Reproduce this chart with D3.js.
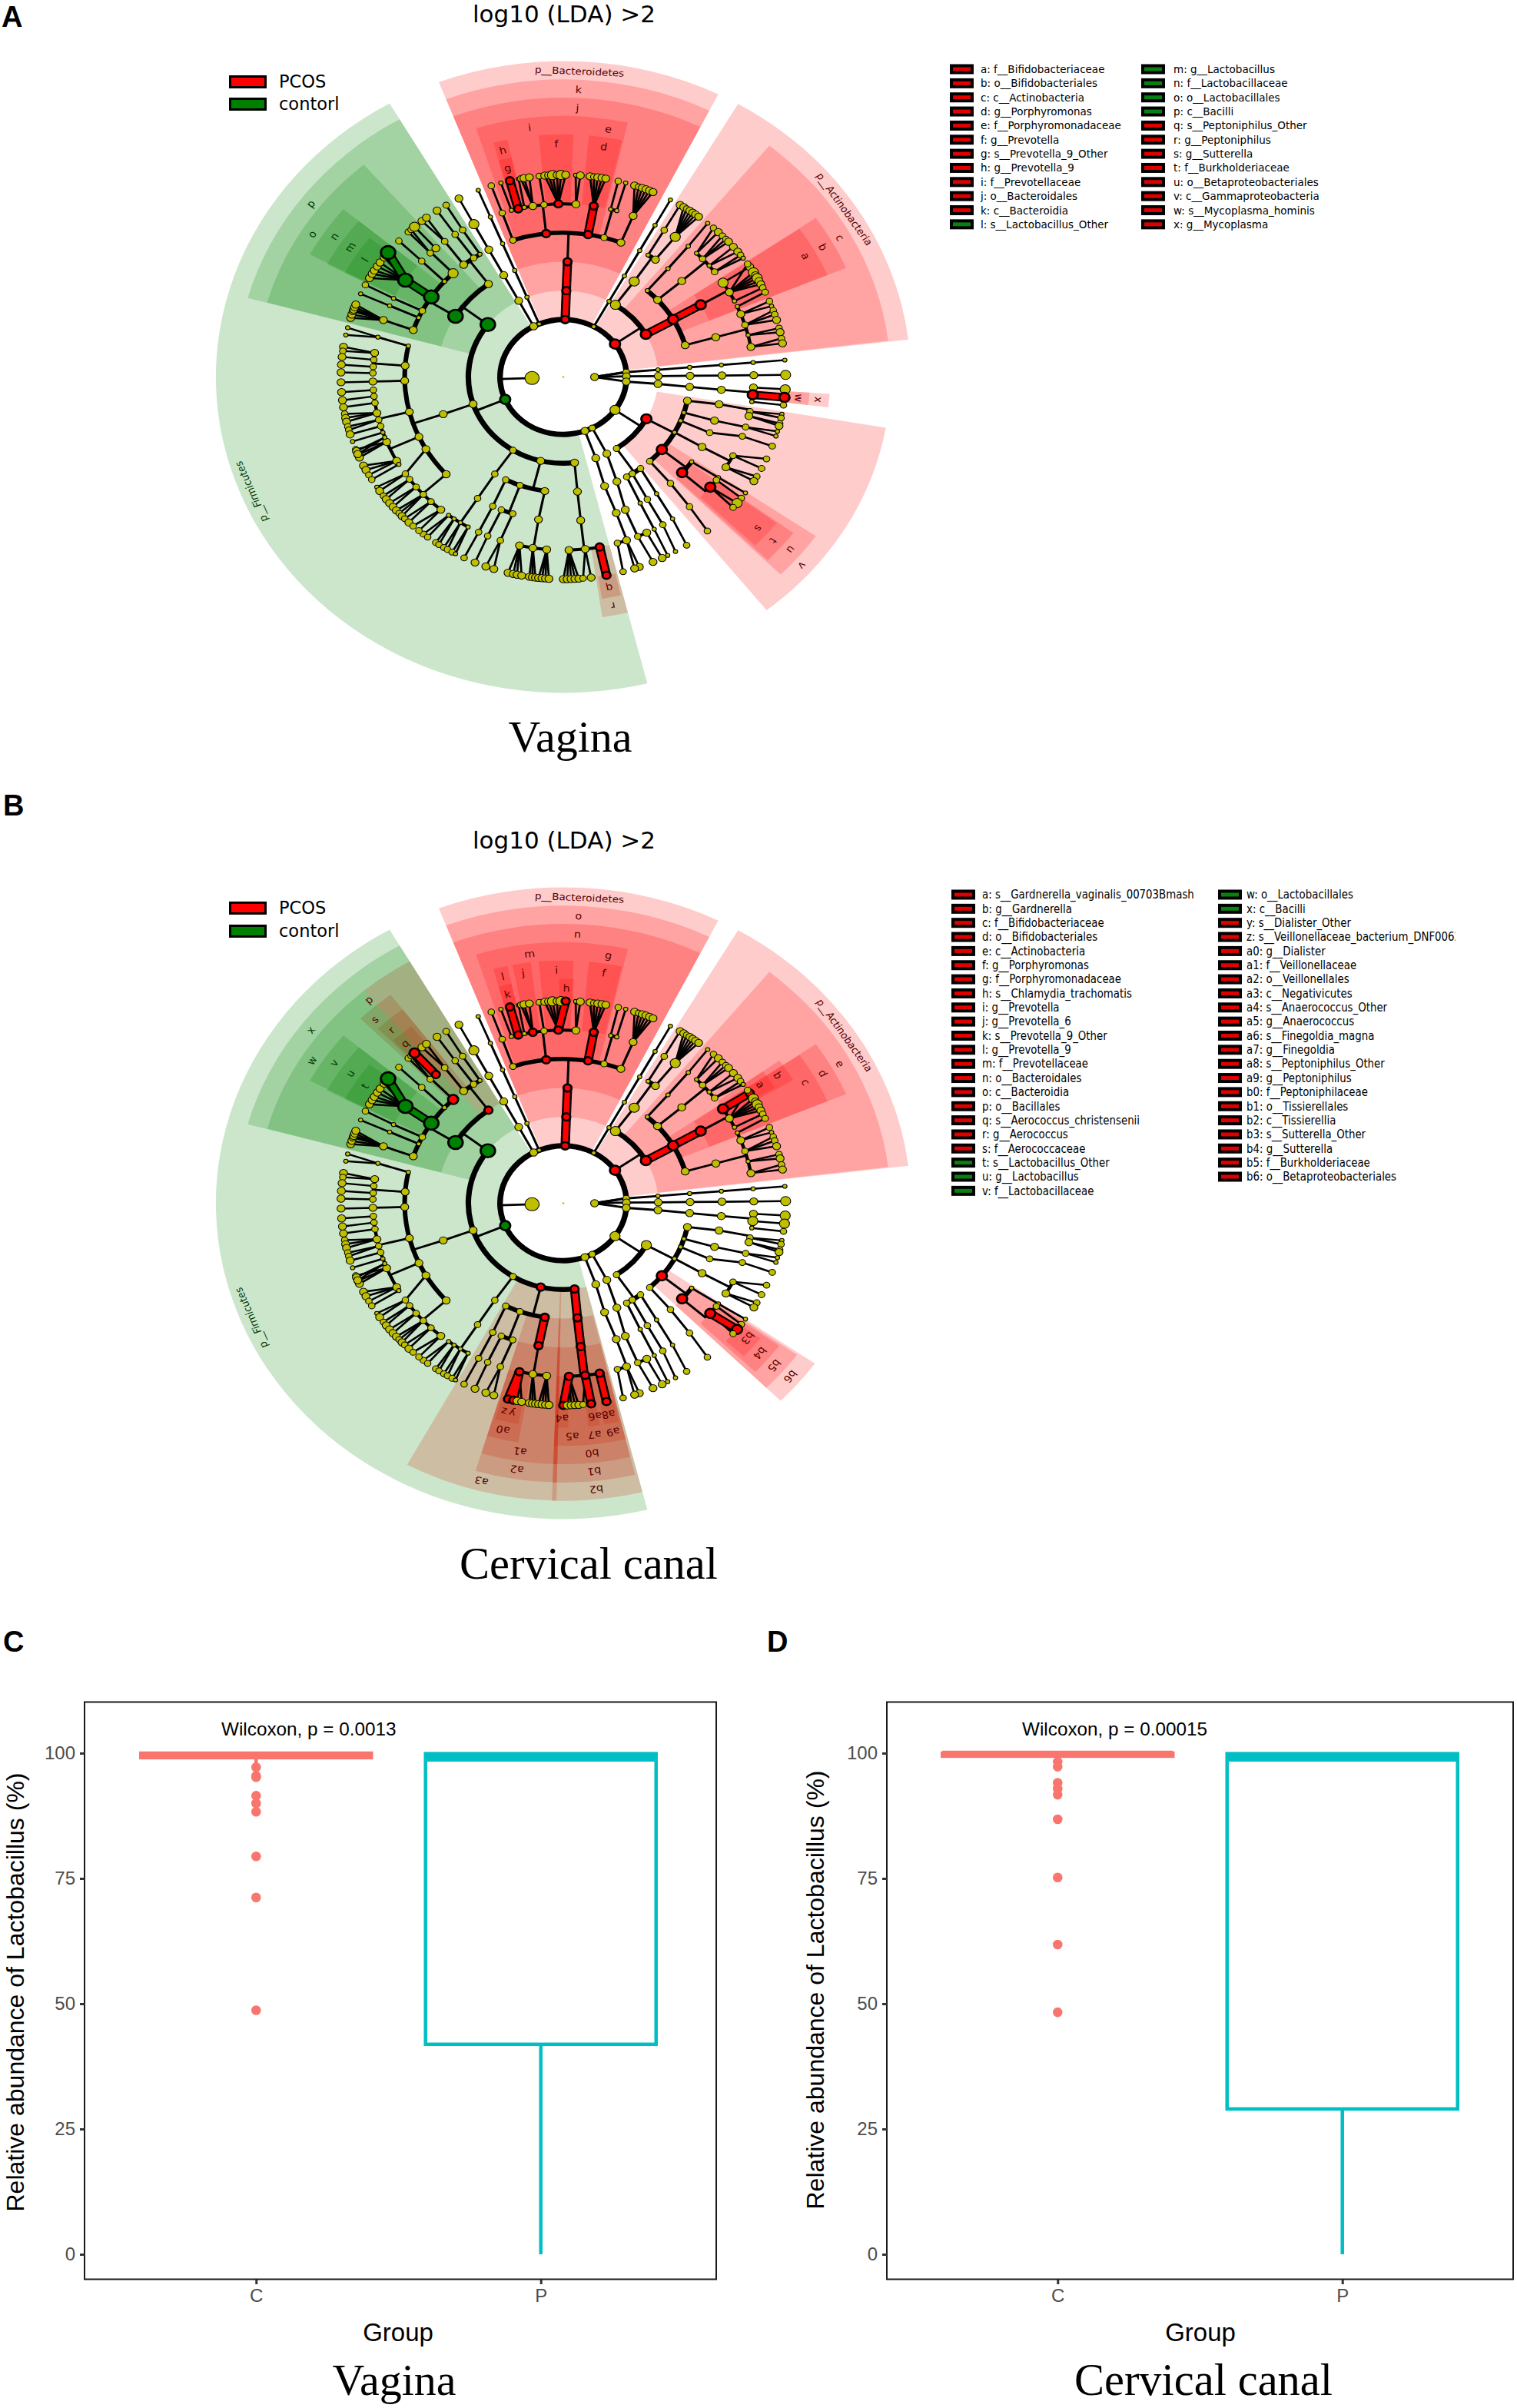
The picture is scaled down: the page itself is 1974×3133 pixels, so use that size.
<!DOCTYPE html>
<html><head><meta charset="utf-8">
<style>html,body{margin:0;padding:0;background:#fff}svg{display:block}</style>
<script src="https://cdn.jsdelivr.net/npm/d3@7/dist/d3.min.js"></script>
</head><body><svg id="c" width="1974" height="3133" viewBox="0 0 1974 3133"></svg>
<script>
// ---- cladogram: node = [angle, size, kids, id]; depth gives the taxonomic level
const chain=(a,sizes)=>{let n=null;for(let i=sizes.length-1;i>=0;i--){n=n?[a,sizes[i],[n]]:[a,sizes[i]];}return n;};

const bacteroidetes=[361.7,3,[[1.8,3,[[1.9,3,[
 [-18.5,2,[[-18.7,2,[[-18.9,2]]]]],
 [-6.2,3,[
  [-15.8,1,[[-16.3,1]]],
  [-13.7,3,[[-13.9,3,null,'bsg']],'bgh'],
  [-11.8,1,[[-11.6,1]]],
  [-9.2,3,[[-11,2],[-10.2,3],[-8.8,3]],'bgj'],
  [-5.8,2,[[-6.2,2]]],
  [-1.5,3,[[-4.8,3],[-3.8,3],[-2.8,4],[-1.6,3],[-0.6,4],[0.6,3,null,'bsh']],'bgf'],
  [3.8,3,[[3.2,1],[4.4,3]]]
 ],'bfi'],
 [9,3,[[9.2,3,[[6.9,3],[7.9,2],[8.9,3],[10,3],[11,3]],'bgd']],'bfe'],
 [14.9,2,[[14.4,1,[[14.3,2]]],[16.3,1,[[16.3,1]]]]],
 [21.3,3,[[21.5,3,[[18.7,3],[19.8,2],[20.8,3],[21.8,3],[22.8,3],[23.8,3]]]]]
],'bo']],'bc']],'bp'];

const chloroflexi=chain(388.8,[1,1,1,1,1,1]);

const actinobacteria=[415,4,[
 [33.3,4,[[34,4,[
   [32.3,1,[[32,2,[[31.7,3]]]]],
   [35.5,3,[[36,4,[[32.8,3],[33.7,2],[34.7,3],[35.6,3],[36.5,3],[37.5,3]]]]]
 ]]]],
 [60.4,4,[
  [41.5,1,[[41.3,1,[[41,1,[[40.5,1]]]]]]],
  [48,3,[[48.3,3,[
    [44.4,1,[[42.5,2],[44.2,3]]],
    [47,2,[[45.7,2],[47,2],[48,3]]],
    [50,1,[[49.9,3],[51.7,3]]],
    [52.6,2,[[52.9,2],[54,1]]]
  ]]]],
  [60,4,[[60,4,[
    [57,4,[[57,3,null,'acs']],'acg'],
    [60.7,3,[[56,2],[58.8,4],[59.8,3],[60.7,4],[61.7,3],[62.7,3]]],
    [64,1,[[63.8,2]]]
  ],'acf']],'aco'],
  [74,3,[[74,3,[
    [66,1,[[65.2,2]]],
    [68.7,3,[[68,2],[69.5,1]]],
    [72.5,2,[[70.8,2],[72,2],[73.6,3]]],
    [76,1,[[76,2],[77.2,3]]],
    [80,3,[[79,2],[80.4,3]]]
  ]]]]
 ],'acc']
],'acp'];

const minorPhyla=[
 chain(85.2,[2,1,1,1,1,1]),
 chain(89.4,[3,3,3,3,3,4]),
 [94.6,3,[[94.6,3,[[94.9,3,[[95.1,3,[
   [93.5,3,[[93.5,4]]],
   [95.9,4,[[95.8,4,null,'ms']],'mg'],
   [98.2,1,[[98,2]]]
 ]]]]]]]]
];

const proteobacteria=[125,4,[
 [119,4,[
  [101.9,3,[[100.9,3,[[101.5,2,[[100.6,1],[101.7,2]]],[103,3,[[103.3,2],[104,3]]]]]]],
  [108,1,[[107.6,3,[[106.8,2,[[105.6,1],[107,1]]]]]]],
  [112.3,1,[[112.7,2,[[110,2,[[110,2]]]]]]],
  [118.7,1,[[119,3,[[117,2,[[113.9,2],[116.9,2]]],[121.4,3,[[119.5,2],[121,3]]]]]]],
  [129,4,[
    [126,1,[[125.5,1,[[125,1]]]]],
    [131.5,4,[[126.5,2,[[126.8,2]]],[129.5,4,[[128.6,4,null,'psl'],[130.2,2]],'ps']],'pt']
  ],'pu'],
  [137,2,[[137.5,2,[[138.5,2,[[139.6,2]]]]]]]
 ],'pv'],
 [145.9,2,[
  [142.5,2,[[144,1,[[145,1,[[146.3,2]]]]]]],
  [147,2,[[148,2,[[148.5,2,[[149.7,1]]]]]]],
  [150,2,[[151,1,[[151.5,1,[[152,1]]]]]]]
 ]]
]];

const p152=[512.7,2,[[152.7,3,[[155,3,[[157,3,[[154,3,[[153.6,3]]],[157,2,[[156.2,3]]]]]]]]]]];
const p160=[520,3,[[160,3,[[161,3,[[160.5,3,[[160.6,3,[[160,3],[161.3,3]]],[163.5,2,[[164.4,2]]]]]]]]]]];

const firmicutes=[607,4,[
 [173.2,3,[[173.6,3,[[173.7,3,[
   [178.3,3,[[180,3,null,'ts4'],[179,3],[178,3],[177,3],[176,3]],'tg178'],
   [173.4,3,[[174.9,2],[172.8,3,null,'ts6']],'tg173'],
   [169,3,[[168.8,3,null,'ts8']],'tg169']
 ],'tf']],'to']],'tc'],
 [193.8,3,[
  [188.4,3,[[189,3,[
    [193.3,3,[[194.4,3,null,'fsz'],[193,3,null,'fsy'],[192,3],[190.8,3]],'vg'],
    [189.2,3,[[188.8,3],[188,3],[187.2,3]]],
    [185,3,[[186.4,3],[185.5,3],[184.6,3],[183.7,3]]]
  ],'vf']],'vo'],
  [200,2,[
    [198.6,2,[[199.3,2,[[200.4,3],[198.2,3]]]]],
    [203,2,[[203.4,2,[[203.4,3]]]]]
  ]],
  [207,2,[[206.4,2,[[206.4,2,[[206.5,2]]]]]]]
 ],'vc'],
 [212,2,[[212.7,2,[[212.7,2,[
   [217,1,[[219,2],[217.6,2]]],
   [215,1,[[215,2],[214,2]]],
   [212.7,1,[[212.5,2],[211.4,2]]],
   [210,1,[[210,2],[209,1]]]
 ]]]]]],
 [251.7,3,[[251.2,3,[
  [282.4,1,[[283.3,1,[[284.1,1],[282,1]]]]],
  [274.5,3,[
    [278,3,[[278.6,3],[277.4,2]]],
    [275.7,2,[[275.7,3]]],
    [273.4,2,[[273.5,3]]],
    [271.3,2,[[271.3,3]]]
  ]],
  [268.5,3,[[268.5,3,[[268.5,3]]]]],
  [256,3,[
    [265.7,2,[[265.7,3]]],[263.6,2,[[263.4,3]]],[261.4,2,[[261.4,3]]],
    [258,3,[[259.5,2],[258.3,3],[257.2,3]]],
    [255.7,2,[[255.8,2],[254.8,2]]],
    [253.5,2,[[253.5,3]]],
    [251.3,1,[[251.4,1]]],
    [248,3,[[249,2],[247.4,3],[246.5,3]]]
  ]],
  [245.5,3,[
    [249.6,1,[[248.5,3],[247.6,3]]],
    [241,3,[[244,3],[242.6,3],[241,2]]],
    [239.7,1,[[239.5,2]]]
  ]],
  [240,3,[[236,2,[[237,1],[235.7,3]]]]],
  [227.6,3,[
    [233.8,2,[[234,2],[232.8,3]]],
    [230.6,2,[[231.4,3],[230,3]]],
    [227.3,2,[[228.7,3],[227.6,2],[226.5,3]]],
    [224,2,[[225.5,2],[224,3]]],
    [220,3,[[222.5,2],[220.5,2]]]
  ]]
 ]]]],
 [307.4,5,[
  [301.8,5,[
   [289,3,[[289.2,3,[[287,3],[288,3],[289,3],[289.5,3],[290.2,3],[291,3]]]]],
   [294.3,1,[[294.3,1,[[294.3,1]]]]],
   [297.3,2,[[297,1,[[297.1,2]]]]],
   [303.7,5,[[304,5,[[299.3,3],[300.7,3],[301.8,3],[303.2,3],[304.5,3],[306.3,3],[308,5,null,'fl']],'fm']],'fn'],
   [311.5,1,[[312,2,[[312.3,2]]]]],
   [316,4,[[315.7,2,[[315.8,2],[316.8,2]]],[318,3,[[318,4,null,'fbs']],'fbg']],'fbf']
  ],'fo'],
  [323.8,3,[
   [321.1,3,[[321.5,2,[[320.5,3],[322,3]]]]],
   [325.6,2,[[325.4,2,[[325.4,3]]]]],
   [328.3,1,[[328.1,2,[[328.2,2]]]]]
  ],'fbo']
 ],'fc']
],'fp'];

const chainA=chain(692,[3,3,3,3,4,3]);
const chainB=chain(697.5,[1,1,1,1,1,1]);
const otherDomain=[268,5,[[268,0]]];
const stubClosure=[445,0];
const mainDomain=[90,3,[minorPhyla[0],minorPhyla[1],minorPhyla[2],proteobacteria,p152,p160,firmicutes,chainA,chainB,bacteroidetes,chloroflexi,actinobacteria,stubClosure]];
const cladeTree=[0,-1,[otherDomain,mainDomain]];

// sectors: [label, start angle, end angle, level, colour, label angle]
const sectorsA=[
 ['p__Bacteroidetes',-21,26.5,2,'r'],['k',-21,26.5,3,'r'],['j',-21,26.5,4,'r'],['i',-17.7,5.8,5,'r',-7],['e',5.8,13,5,'r'],
 ['f',-5.3,2.2,6,'r'],['d',5.5,12.7,6,'r'],['h',-15.2,-12.1,6,'r'],['g',-15.2,-12.1,7,'r'],
 ['p__Actinobacteria',30.2,83.2,2,'r'],['c',39,83,3,'r',61],['b',55.3,67,4,'r'],['a',55.4,67,5,'r'],
 ['p__Firmicutes',166,330,2,'g',248],['p',285.4,330,3,'g',307],['o',285.5,319.5,4,'g',302],['n',298,310,5,'g'],['m',297.7,310,6,'g'],['l',297.7,308.3,7,'g'],
 ['v',99.8,141.6,3,'r',131],['u',124.7,135,4,'r'],['t',126.7,134.6,5,'r'],['s',127,134,6,'r'],
 ['r',166,171.6,6,'r'],['q',166.5,171,7,'r'],['x',94,97.2,6,'r'],['w',94,97.2,7,'r']
];
const sectorsB=[
 ['p__Bacteroidetes',-21,26.5,2,'r'],['o',-21,26.5,3,'r'],['n',-21,26.5,4,'r'],['m',-17.7,5.8,5,'r',-7],['g',5.8,13,5,'r'],
 ['i',-5.3,2.2,6,'r'],['f',5.5,12.7,6,'r'],['l',-15.2,-12.1,6,'r'],['k',-15.2,-12.1,7,'r'],['j',-11,-7,6,'r'],['h',-1,2.5,7,'r'],
 ['p__Actinobacteria',30.2,83.2,2,'r'],['e',39,83,3,'r',61],['d',55.3,67,4,'r'],['c',55.4,67,5,'r'],['b',54,59.5,6,'r'],['a',54,59,7,'r'],
 ['p__Firmicutes',166,330,2,'g',248],['x',285.4,330,3,'g',307],['w',285.5,319.5,4,'g',302],['v',298,310,5,'g'],['u',297.7,310,6,'g'],['t',297.7,308.3,7,'g'],
 ['p',319.5,330,4,'r',319],['s',315,323,5,'r',317],['r',316,323,6,'r',318],['q',316.5,322,7,'r',318],
 ['a3',181.2,208.5,3,'r',195],['a2',181.2,196.6,4,'r',189],['a1',181.2,196.6,5,'r',189],['a0',189.7,196.6,6,'r',193.6],
 ['z',193.5,196,7,'r',194.5],['y',190.5,193.5,7,'r',192.5],
 ['b2',166,182,3,'r',174],['b1',166.5,182,4,'r',174],['b0',166.5,182,5,'r',174],
 ['a5',174.6,182,6,'r',178],['a7',171.5,174.6,6,'r',173],['a9',166.5,171.5,6,'r',168.8],
 ['a4',178.8,181.5,7,'r',180.3],['a6',171.5,174.2,7,'r',172.3],['a8',167,170.5,7,'r',169],
 ['b6',125,135,4,'r'],['b5',125.5,135,5,'r'],['b4',126,134,6,'r'],['b3',127,133,7,'r',128.8]
];
const marksA={red:['bp','bc','bo','bfi','bfe','bgh','bgf','bgd','bsg','acp','acc','aco','acf','pv','pu','pt','ps','tg169','ts8','mg','ms'],green:['fp','fc','fo','fn','fm','fl']};
const marksB={red:['bp','bc','bo','bfi','bfe','bgh','bgj','bgf','bgd','bsg','bsh','acp','acc','aco','acf','acg','acs','fbo','fbf','fbg','fbs','vc','vo','vf','vg','fsz','fsy','tc','to','tf','tg178','tg173','tg169','ts4','ts6','ts8','pu','pt','ps','psl'],green:['fp','fc','fo','fn','fm','fl']};

const legendA=[['a: f__Bifidobacteriaceae','b: o__Bifidobacteriales','c: c__Actinobacteria','d: g__Porphyromonas','e: f__Porphyromonadaceae','f: g__Prevotella','g: s__Prevotella_9_Other','h: g__Prevotella_9','i: f__Prevotellaceae','j: o__Bacteroidales','k: c__Bacteroidia','l: s__Lactobacillus_Other'],
 ['m: g__Lactobacillus','n: f__Lactobacillaceae','o: o__Lactobacillales','p: c__Bacilli','q: s__Peptoniphilus_Other','r: g__Peptoniphilus','s: g__Sutterella','t: f__Burkholderiaceae','u: o__Betaproteobacteriales','v: c__Gammaproteobacteria','w: s__Mycoplasma_hominis','x: g__Mycoplasma']];
const legendAgreen=['l:','m:','n:','o:','p:'];
const legendB=[['a: s__Gardnerella_vaginalis_00703Bmash','b: g__Gardnerella','c: f__Bifidobacteriaceae','d: o__Bifidobacteriales','e: c__Actinobacteria','f: g__Porphyromonas','g: f__Porphyromonadaceae','h: s__Chlamydia_trachomatis','i: g__Prevotella','j: g__Prevotella_6','k: s__Prevotella_9_Other','l: g__Prevotella_9','m: f__Prevotellaceae','n: o__Bacteroidales','o: c__Bacteroidia','p: o__Bacillales','q: s__Aerococcus_christensenii','r: g__Aerococcus','s: f__Aerococcaceae','t: s__Lactobacillus_Other','u: g__Lactobacillus','v: f__Lactobacillaceae'],
 ['w: o__Lactobacillales','x: c__Bacilli','y: s__Dialister_Other','z: s__Veillonellaceae_bacterium_DNF00628','a0: g__Dialister','a1: f__Veillonellaceae','a2: o__Veillonellales','a3: c__Negativicutes','a4: s__Anaerococcus_Other','a5: g__Anaerococcus','a6: s__Finegoldia_magna','a7: g__Finegoldia','a8: s__Peptoniphilus_Other','a9: g__Peptoniphilus','b0: f__Peptoniphilaceae','b1: o__Tissierellales','b2: c__Tissierellia','b3: s__Sutterella_Other','b4: g__Sutterella','b5: f__Burkholderiaceae','b6: o__Betaproteobacteriales']];
const legendBgreen=['t:','u:','v:','w:','x:'];

// ---- box plots
const groups=['C','P'];
const yTicks=[0,25,50,75,100];
const boxesVagina=[{g:'C',lo:97.5,q1:99.1,med:99.6,q3:100},{g:'P',lo:0,q1:41.9,med:99,q3:99.9}];
const boxesCervix=[{g:'C',lo:99,q1:99.4,med:99.8,q3:100},{g:'P',lo:0,q1:29,med:99,q3:99.9}];
const outliersVagina=[97.2,95.5,95.2,91.5,90,88.3,79.4,71.2,48.7];
const outliersCervix=[98.3,97.3,94.1,92.9,91.7,86.8,75.2,61.8,48.3];

const svg=d3.select('#c');
const COL={r:'#ff0000',g:'#008000'};
const rLevel=d3.scaleLinear().domain([1,7]).range([37,263]);
const rOuter=d3.scaleLinear().domain([2,7]).range([411,292]);
const rLabel=d3.scaleLinear().domain([2,7]).range([398,280]);
const rad=d=>d*Math.PI/180;
const sizeR=[0,2.6,3.9,4.7,6,8.5];
const arcW={2:7,3:6.5,4:6,5:5.5,6:4,7:3};

function cladogram(cx,cy,sectors,marks){
 const g=svg.append('g').attr('transform',`translate(${cx},${cy}) scale(1.1,1)`);
 const arc=d3.arc();
 const stacked=[...sectors.filter(d=>d[4]==='r'),...sectors.filter(d=>d[4]==='g')];
 g.selectAll('path.sec').data(stacked).join('path').attr('class','sec')
  .attr('d',d=>arc({innerRadius:rLevel(d[3]),outerRadius:rOuter(d[3]),startAngle:rad(d[1]),endAngle:rad(d[2])}))
  .attr('fill',d=>COL[d[4]]).attr('fill-opacity',.2);
 const red=new Set(marks.red),green=new Set(marks.green);
 const mark=id=>red.has(id)?'r':green.has(id)?'g':null;
 const nodes=[],lines=[],arcs=[],thick=[];
 const pt=(a,l)=>d3.pointRadial(rad(a),l===0?0:rLevel(l));
 const diff=(p,q)=>Math.abs(((p-q+540)%360)-180);
 (function walk(n,l){
  const a=n[0],s=n[1],kids=n[2]||[],id=n[3];
  const m=mark(id);
  nodes.push({p:pt(a,l),s,m,l});
  if(!kids.length)return;
  const kl=l+1;
  const ks=kids.map(k=>k[0]);
  const thickTo=(k)=>{const km=mark(k[3]);return km&&m&&km===m;};
  if(l===0){ kids.forEach(k=>walk(k,kl)); return; }
  if(kl===7||kids.length===1){
   kids.forEach(k=>{
     if(thickTo(k)) thick.push({a:pt(a,l),b:pt(k[0],kl),m});
     else lines.push({a:pt(a,l),b:pt(k[0],kl),w:kl===7?2.5:2.8});
   });
  } else {
   arcs.push({r:rLevel(kl),a0:d3.min(ks),a1:d3.max(ks),w:arcW[kl]});
   const near=kids.find(k=>thickTo(k)&&diff(k[0],a)<1.5);
   if(near) thick.push({a:pt(a,l),b:pt(a,kl),m});
   else if(l===1) kids.filter(k=>diff(k[0],a)<7).forEach(k=>lines.push({a:pt(a,l),b:pt(k[0],kl),w:2.8}));
   else lines.push({a:pt(a,l),b:pt(a,kl),w:2.8});
  }
  kids.forEach(k=>walk(k,kl));
 })(cladeTree,0);
 g.selectAll('path.arc').data(arcs).join('path').attr('class','arc')
  .attr('d',d=>arc({innerRadius:d.r-d.w/2,outerRadius:d.r+d.w/2,startAngle:rad(d.a0),endAngle:rad(d.a1)})).attr('fill','#000');
 g.selectAll('line.l').data(lines).join('line').attr('class','l')
  .attr('x1',d=>d.a[0]).attr('y1',d=>d.a[1]).attr('x2',d=>d.b[0]).attr('y2',d=>d.b[1])
  .attr('stroke','#000').attr('stroke-width',d=>d.w);
 g.selectAll('line.tb').data(thick).join('line').attr('class','tb')
  .attr('x1',d=>d.a[0]).attr('y1',d=>d.a[1]).attr('x2',d=>d.b[0]).attr('y2',d=>d.b[1])
  .attr('stroke','#000').attr('stroke-width',11);
 g.selectAll('line.tc').data(thick).join('line').attr('class','tc')
  .attr('x1',d=>d.a[0]).attr('y1',d=>d.a[1]).attr('x2',d=>d.b[0]).attr('y2',d=>d.b[1])
  .attr('stroke',d=>COL[d.m]).attr('stroke-width',6.5);
 const vis=nodes.filter(d=>d.s!==0);
 g.selectAll('circle').data(vis).join('circle')
  .attr('cx',d=>d.p[0]).attr('cy',d=>d.p[1])
  .attr('r',d=>d.s<0?1.2:d.m?Math.max(sizeR[d.s],4.8):sizeR[d.s])
  .attr('fill',d=>d.m?COL[d.m]:'#bfbf00')
  .attr('stroke',d=>d.s<0?'none':'#000').attr('stroke-width',d=>d.m?2.6:1);
 g.selectAll('text.lab').data(sectors).join('text').attr('class','lab')
  .attr('transform',d=>{const a=d[5]!==undefined?d[5]:(d[1]+d[2])/2;const p=d3.pointRadial(rad(a),rLabel(d[3]));return `translate(${p[0]},${p[1]}) rotate(${a})`;})
  .attr('text-anchor','middle').attr('dominant-baseline','central')
  .attr('font-family','DejaVu Sans').attr('font-size',d=>d[0].length>3?12.4:13)
  .attr('fill',d=>d[4]==='r'?'#5a0000':'#003a00').text(d=>d[0]);
}

function keyBox(x,y,col,w,h){
 svg.append('rect').attr('x',x).attr('y',y).attr('width',w).attr('height',h).attr('fill','#000');
 return svg.append('rect').attr('x',x+3).attr('y',y+3).attr('width',w-6).attr('height',h-6).attr('fill',col);
}
function panelLegend(y0,y1,title,tx,ty){
 svg.append('text').attr('x',tx).attr('y',ty).attr('text-anchor','middle').attr('font-family','DejaVu Sans').attr('font-size',31).text(title);
 keyBox(298,y0,COL.r,49,17);
 keyBox(298,y1,COL.g,49,17);
 [['PCOS',y0],['contorl',y1]].forEach(d=>svg.append('text').attr('x',363).attr('y',d[1]+16).attr('font-family','DejaVu Sans').attr('font-size',22.5).text(d[0]));
}
function taxaLegend(cols,greens,patchX,textX,y0,step,sx,size,clipW,cid){
 const defs=svg.append('clipPath').attr('id',cid);
 defs.append('rect').attr('x',0).attr('y',y0-20).attr('width',clipW).attr('height',step*26);
 svg.append('g').attr('clip-path',`url(#${cid})`).call(g=>{
 cols.forEach((col,ci)=>{
  col.forEach((t,i)=>{
   const y=y0+i*step;
   const isG=greens.includes(t.split(' ')[0]);
   g.append('rect').attr('x',patchX[ci]).attr('y',y-6.5).attr('width',31).attr('height',13).attr('fill','#000');
   g.append('rect').attr('x',patchX[ci]+4).attr('y',y-2.5).attr('width',23).attr('height',5).attr('fill',isG?'#0a8010':'#e00000');
   g.append('text').attr('transform',`translate(${textX[ci]},${y}) scale(${sx},1)`).attr('dominant-baseline','central')
    .attr('font-family','DejaVu Sans').attr('font-size',size).text(t);
  });
 });});
}
function boxPlot(o){
 const g=svg.append('g');
 const x=d3.scalePoint().domain(groups).range(o.xr).padding(.6);
 const y=d3.scaleLinear().domain([0,100]).range([2933,2281]);
 const bw=300, col={C:'#F8766D',P:'#00BFC4'};
 o.boxes.forEach(b=>{
  const c=x(b.g),st=col[b.g];
  g.append('line').attr('x1',c).attr('x2',c).attr('y1',y(b.lo)).attr('y2',y(b.q1)).attr('stroke',st).attr('stroke-width',4.5);
  g.append('rect').attr('x',c-bw/2).attr('width',bw).attr('y',y(b.q3)).attr('height',y(b.q1)-y(b.q3)).attr('fill','#fff').attr('stroke',st).attr('stroke-width',4.5);
  g.append('line').attr('x1',c-bw/2).attr('x2',c+bw/2).attr('y1',y(b.med)).attr('y2',y(b.med)).attr('stroke',st).attr('stroke-width',9);
 });
 g.selectAll('circle').data(o.out).join('circle').attr('cx',x('C')).attr('cy',d=>y(d)).attr('r',6.3).attr('fill','#F8766D');
 g.append('rect').attr('x',o.x0).attr('y',2214.5).attr('width',o.x1-o.x0).attr('height',751).attr('fill','none').attr('stroke','#1a1a1a').attr('stroke-width',2);
 const font='Liberation Sans';
 const ya=g.append('g').attr('transform',`translate(${o.x0},0)`).call(d3.axisLeft(y).tickValues(yTicks).tickSize(6).tickPadding(6));
 ya.select('.domain').remove();
 ya.selectAll('line').attr('stroke','#333').attr('stroke-width',3);
 ya.selectAll('text').attr('font-family',font).attr('font-size',24).attr('fill','#4D4D4D');
 const xa=g.append('g').attr('transform','translate(0,2966)').call(d3.axisBottom(x).tickSize(6).tickPadding(6));
 xa.select('.domain').remove();
 xa.selectAll('line').attr('stroke','#333').attr('stroke-width',3);
 xa.selectAll('text').attr('font-family',font).attr('font-size',24).attr('fill','#4D4D4D');
 g.append('text').attr('x',o.gx).attr('y',3046).attr('text-anchor','middle').attr('font-family',font).attr('font-size',33).attr('fill','#000').text('Group');
 g.append('text').attr('transform',`translate(${o.tx},${o.ty}) rotate(-90)`).attr('text-anchor','middle').attr('font-family',font).attr('font-size',o.ts).attr('fill','#000').text(o.ytitle);
 g.append('text').attr('x',o.wx).attr('y',2258).attr('font-family',font).attr('font-size',24.3).attr('fill','#000').text(o.w);
}
function serif(t,x,y,s){svg.append('text').attr('x',x).attr('y',y).attr('text-anchor','middle').attr('font-family','Liberation Serif').attr('font-size',s).attr('fill','#000').text(t);}
function tag(t,x,y){svg.append('text').attr('x',x).attr('y',y).attr('font-family','Liberation Sans').attr('font-weight','bold').attr('font-size',38).attr('fill','#000').text(t);}

svg.append('rect').attr('width',1974).attr('height',3133).attr('fill','#fff');
cladogram(733,490.5,sectorsA,marksA);
cladogram(733,1565.5,sectorsB,marksB);
panelLegend(98,127,'log10 (LDA) >2',734,29);
panelLegend(1173,1203,'log10 (LDA) >2',734,1104);
taxaLegend(legendA,legendAgreen,[1236,1485],[1276,1527],90,18.35,1,13.5,1974,'ca');
taxaLegend(legendB,legendBgreen,[1238,1585],[1278,1622],1164,18.35,.89,15,1894,'cb');
serif('Vagina',742,978,58);
serif('Cervical canal',766,2054,58.5);
serif('Vagina',513,3116,58);
serif('Cervical canal',1566,3116,58.5);
tag('A',2,35);tag('B',4,1061);tag('C',4,2149);tag('D',998,2149);
boxPlot({x0:110,x1:932,xr:[111,926],boxes:boxesVagina,out:outliersVagina,gx:518,tx:31,ty:2592,ts:32,ytitle:'Relative abundance of Lactobacillus (%)',wx:288,w:'Wilcoxon, p = 0.0013'});
boxPlot({x0:1154,x1:1969,xr:[1154,1969],boxes:boxesCervix,out:outliersCervix,gx:1562,tx:1072,ty:2589,ts:32,ytitle:'Relative abundance of  Lactobacillus (%)',wx:1330,w:'Wilcoxon, p = 0.00015'});
</script></body></html>
